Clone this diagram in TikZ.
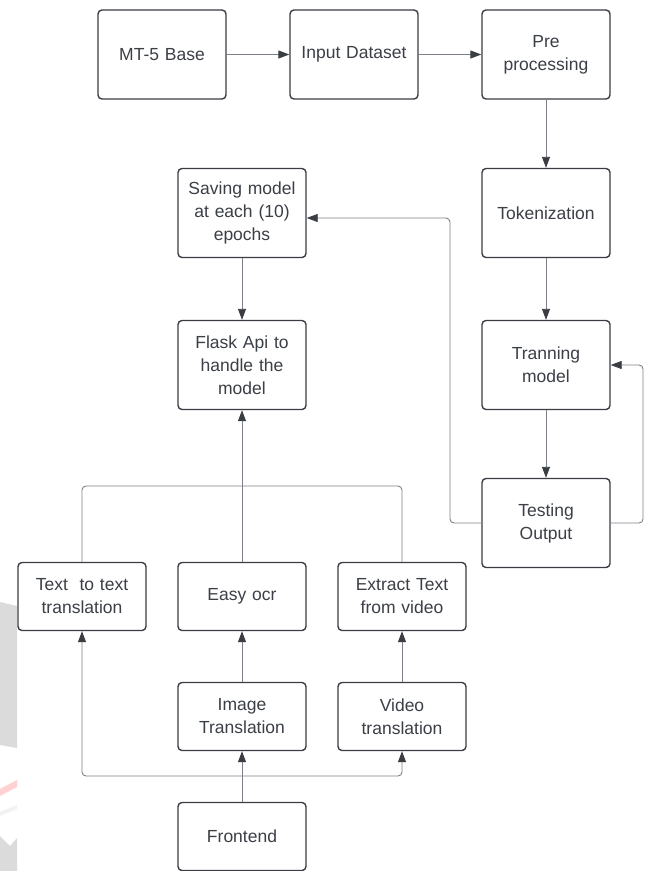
\documentclass[tikz,border=0pt]{standalone}
\usepackage{fontspec}
\setmainfont{Liberation Sans}
\usetikzlibrary{arrows.meta}
\definecolor{boxc}{HTML}{3A3D44}
\definecolor{linec}{HTML}{7D8086}
\definecolor{txtc}{HTML}{3B3F46}
\tikzset{
  box/.style={draw=boxc, line width=1.4pt, rounded corners=4pt, fill=white,
    minimum width=128pt, text width=124pt, align=center, inner sep=0pt,
    font=\fontsize{17.5}{23}\selectfont, text=txtc},
  tall/.style={box, minimum height=89pt},
  short/.style={box, minimum height=68pt},
  conn/.style={draw=linec, line width=0.9pt, rounded corners=4pt,
    -{Triangle[length=11pt,width=8pt,fill=boxc,color=boxc]}},
  plain/.style={draw=linec, line width=0.9pt, rounded corners=4pt}
}
\begin{document}
\begin{tikzpicture}[x=1pt,y=-1pt]
\useasboundingbox (0,0) rectangle (648,871);
\fill[white] (0,0) rectangle (648,871);
% faint watermark fragments
\fill[black!14] (0,602) -- (17,606) -- (17,748) -- (0,745) -- cycle;
\fill[red!18] (0,789) -- (17,780) -- (17,787) -- (0,796) -- cycle;
\fill[black!5] (0,812) -- (17,805) -- (17,809) -- (0,816) -- cycle;
\fill[black!14] (0,836) -- (10,846) -- (17,838) -- (17,871) -- (0,871) -- cycle;
% nodes
\node[tall] (mt5) at (162,54.5) {MT-5 Base};
\node[tall] (inp) at (354,54.5) {Input Dataset};
\node[tall] (pre) at (546,54.5) {Pre\\processing};
\node[tall] (tok) at (546,213) {Tokenization};
\node[tall] (trn) at (546,365) {Tranning\\model};
\node[tall] (tst) at (546,523) {Testing\\Output};
\node[tall] (sav) at (242,213) {Saving model\\at each (10)\\epochs};
\node[tall] (fla) at (242,365) {Flask Api to\\handle the\\model};
\node[short] (ttt) at (82,596.5) {Text\ \ to text\\translation};
\node[short] (ocr) at (242,596.5) {Easy ocr};
\node[short] (ext) at (402,596.5) {Extract Text\\from video};
\node[short] (img) at (242,716.5) {Image\\Translation};
\node[short] (vid) at (402,716.5) {Video\\translation};
\node[short] (fro) at (242,836.5) {Frontend};
% connectors
\draw[conn] (mt5) -- (inp);
\draw[conn] (inp) -- (pre);
\draw[conn] (pre) -- (tok);
\draw[conn] (tok) -- (trn);
\draw[conn] (trn) -- (tst);
\draw[conn] (tst.east) -- (643,523) -- (643,365) -- (trn.east);
\draw[conn] (tst.west) -- (450,523) -- (450,218) -- (sav.east |- 0,218);
\draw[conn] (sav) -- (fla);
\draw[conn] (ocr) -- (fla);
\draw[plain] (ttt.north) -- (82,486) -- (402,486) -- (ext.north);
\draw[conn] (img) -- (ocr);
\draw[conn] (vid) -- (ext);
\draw[conn] (fro) -- (img);
\draw[conn] (242,776) -- (82,776) -- (ttt.south);
\draw[conn] (242,776) -- (402,776) -- (vid.south);
\end{tikzpicture}
\end{document}
